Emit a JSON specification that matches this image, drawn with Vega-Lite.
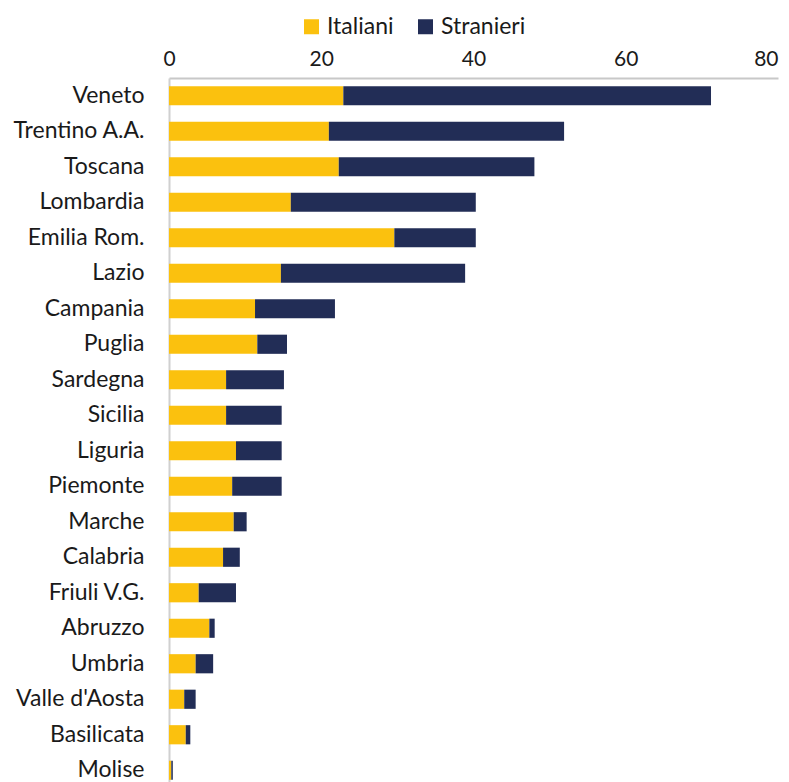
{
  "$schema": "https://vega.github.io/schema/vega-lite/v6.json",
  "autosize": {"type": "none"},
  "padding": {"left": 169, "top": 78, "right": 11, "bottom": 0},
  "width": 609,
  "height": 710,
  "background": "white",
  "config": {"view": {"stroke": null}, "font": "Lato"},
  "data": {"values": [
    {"regione": "Veneto", "gruppo": "Italiani", "ord": 1, "valore": 22.9},
    {"regione": "Veneto", "gruppo": "Stranieri", "ord": 2, "valore": 48.3},
    {"regione": "Trentino A.A.", "gruppo": "Italiani", "ord": 1, "valore": 21.0},
    {"regione": "Trentino A.A.", "gruppo": "Stranieri", "ord": 2, "valore": 30.9},
    {"regione": "Toscana", "gruppo": "Italiani", "ord": 1, "valore": 22.3},
    {"regione": "Toscana", "gruppo": "Stranieri", "ord": 2, "valore": 25.7},
    {"regione": "Lombardia", "gruppo": "Italiani", "ord": 1, "valore": 16.0},
    {"regione": "Lombardia", "gruppo": "Stranieri", "ord": 2, "valore": 24.3},
    {"regione": "Emilia Rom.", "gruppo": "Italiani", "ord": 1, "valore": 29.6},
    {"regione": "Emilia Rom.", "gruppo": "Stranieri", "ord": 2, "valore": 10.7},
    {"regione": "Lazio", "gruppo": "Italiani", "ord": 1, "valore": 14.7},
    {"regione": "Lazio", "gruppo": "Stranieri", "ord": 2, "valore": 24.2},
    {"regione": "Campania", "gruppo": "Italiani", "ord": 1, "valore": 11.3},
    {"regione": "Campania", "gruppo": "Stranieri", "ord": 2, "valore": 10.5},
    {"regione": "Puglia", "gruppo": "Italiani", "ord": 1, "valore": 11.6},
    {"regione": "Puglia", "gruppo": "Stranieri", "ord": 2, "valore": 3.9},
    {"regione": "Sardegna", "gruppo": "Italiani", "ord": 1, "valore": 7.5},
    {"regione": "Sardegna", "gruppo": "Stranieri", "ord": 2, "valore": 7.6},
    {"regione": "Sicilia", "gruppo": "Italiani", "ord": 1, "valore": 7.5},
    {"regione": "Sicilia", "gruppo": "Stranieri", "ord": 2, "valore": 7.3},
    {"regione": "Liguria", "gruppo": "Italiani", "ord": 1, "valore": 8.8},
    {"regione": "Liguria", "gruppo": "Stranieri", "ord": 2, "valore": 6.0},
    {"regione": "Piemonte", "gruppo": "Italiani", "ord": 1, "valore": 8.3},
    {"regione": "Piemonte", "gruppo": "Stranieri", "ord": 2, "valore": 6.5},
    {"regione": "Marche", "gruppo": "Italiani", "ord": 1, "valore": 8.5},
    {"regione": "Marche", "gruppo": "Stranieri", "ord": 2, "valore": 1.7},
    {"regione": "Calabria", "gruppo": "Italiani", "ord": 1, "valore": 7.1},
    {"regione": "Calabria", "gruppo": "Stranieri", "ord": 2, "valore": 2.2},
    {"regione": "Friuli V.G.", "gruppo": "Italiani", "ord": 1, "valore": 3.9},
    {"regione": "Friuli V.G.", "gruppo": "Stranieri", "ord": 2, "valore": 4.9},
    {"regione": "Abruzzo", "gruppo": "Italiani", "ord": 1, "valore": 5.3},
    {"regione": "Abruzzo", "gruppo": "Stranieri", "ord": 2, "valore": 0.7},
    {"regione": "Umbria", "gruppo": "Italiani", "ord": 1, "valore": 3.5},
    {"regione": "Umbria", "gruppo": "Stranieri", "ord": 2, "valore": 2.3},
    {"regione": "Valle d'Aosta", "gruppo": "Italiani", "ord": 1, "valore": 2.0},
    {"regione": "Valle d'Aosta", "gruppo": "Stranieri", "ord": 2, "valore": 1.5},
    {"regione": "Basilicata", "gruppo": "Italiani", "ord": 1, "valore": 2.2},
    {"regione": "Basilicata", "gruppo": "Stranieri", "ord": 2, "valore": 0.6},
    {"regione": "Molise", "gruppo": "Italiani", "ord": 1, "valore": 0.3},
    {"regione": "Molise", "gruppo": "Stranieri", "ord": 2, "valore": 0.2}
  ]},
  "mark": {"type": "bar"},
  "encoding": {
    "y": {
      "field": "regione", "type": "nominal",
      "sort": ["Veneto", "Trentino A.A.", "Toscana", "Lombardia", "Emilia Rom.", "Lazio", "Campania", "Puglia", "Sardegna", "Sicilia", "Liguria", "Piemonte", "Marche", "Calabria", "Friuli V.G.", "Abruzzo", "Umbria", "Valle d'Aosta", "Basilicata", "Molise"],
      "scale": {"paddingInner": 0.46, "paddingOuter": 0.23},
      "axis": {"title": null, "ticks": false, "domainColor": "#D0D0D0", "domainWidth": 2, "labelFontSize": 23, "labelColor": "#1a1a1a", "labelPadding": 25, "labelFont": "Lato"}
    },
    "x": {
      "field": "valore", "type": "quantitative", "stack": "zero",
      "scale": {"domain": [0, 80], "nice": false},
      "axis": {"orient": "top", "title": null, "values": [0, 20, 40, 60, 80], "grid": false, "ticks": false, "domainColor": "#C8C8C8", "domainWidth": 2, "labelFontSize": 21, "labelColor": "#1a1a1a", "labelPadding": 9, "labelDx": 3, "labelFont": "Lato", "labelFlush": false,
        "labelAlign": {"condition": {"test": "datum.value == 80", "value": "right"}, "value": "center"}}
    },
    "color": {
      "field": "gruppo", "type": "nominal",
      "scale": {"domain": ["Italiani", "Stranieri"], "range": ["#FBC10E", "#222D56"]},
      "legend": {"title": null, "orient": "none", "direction": "horizontal", "legendX": 131, "legendY": -63, "symbolType": "square", "symbolSize": 225, "symbolStrokeWidth": 0, "labelFontSize": 23, "labelColor": "#1a1a1a", "labelFont": "Lato", "columnPadding": 20, "labelOffset": 4}
    },
    "order": {"field": "ord", "type": "quantitative"}
  }
}
